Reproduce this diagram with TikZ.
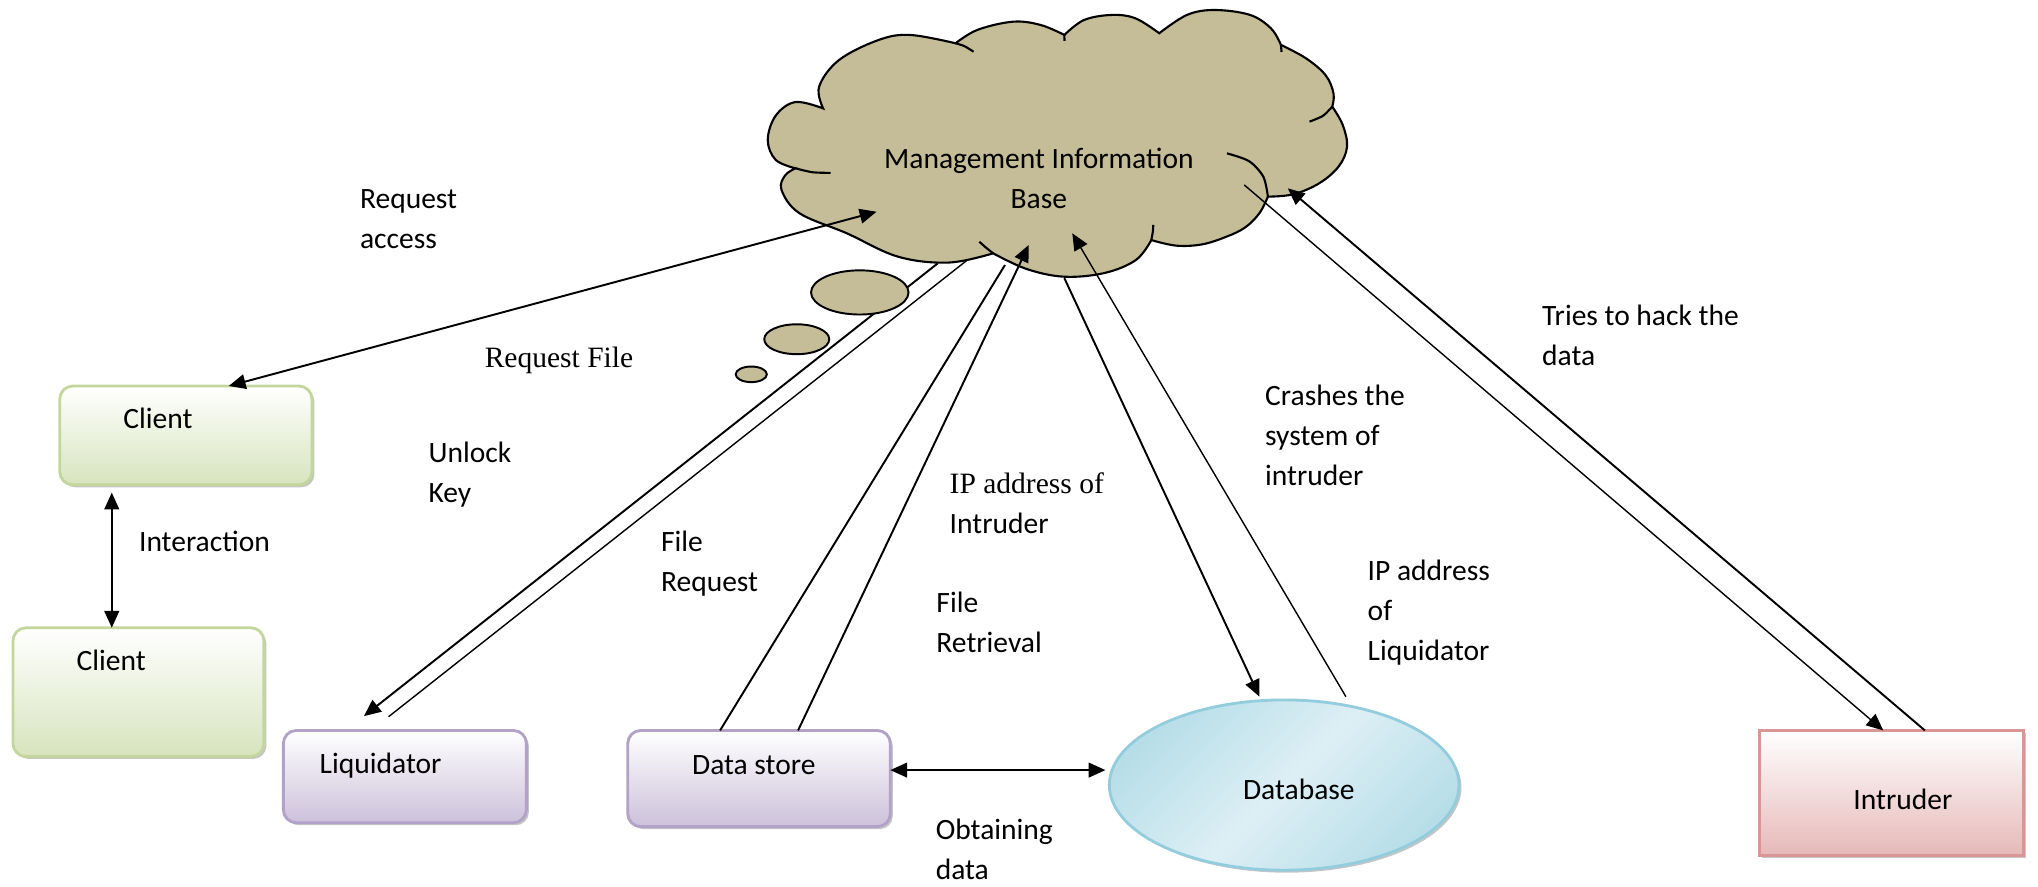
\documentclass[tikz,border=0pt]{standalone}
\usepackage{fontspec}
\setmainfont{Carlito}
\newfontfamily\serifface{Liberation Serif}
\usetikzlibrary{shapes.geometric,arrows.meta,shadows,calc}

\definecolor{cloudfill}{HTML}{C4BD97}
\definecolor{greenedge}{HTML}{C3D69B}
\definecolor{greenfill}{HTML}{D7E4BD}
\definecolor{violetedge}{HTML}{B3A2C7}
\definecolor{violetfill}{HTML}{CCC1DA}
\definecolor{pinkedge}{HTML}{D99694}
\definecolor{pinkfill}{HTML}{E6B9B8}
\definecolor{blueedge}{HTML}{93CDDD}
\definecolor{bluefill}{HTML}{B7DEE8}
\definecolor{bluelight}{HTML}{DDEFF5}

% stacked lines: left aligned / centred, baseline on the first line
\newcommand{\leftlines}[1]{\vtop{\halign{##\hfil\cr#1\crcr}}}
\newcommand{\midlines}[1]{\vtop{\halign{\hfil##\hfil\cr#1\crcr}}}

\tikzset{
  lbl/.style={anchor=base west, inner sep=0, outer sep=0},
  boxbase/.style={rectangle, inner sep=0, outer sep=0, line width=0.8pt,
    drop shadow={shadow xshift=0.025cm, shadow yshift=-0.025cm, fill=black!45}},
  greenbox/.style={boxbase, rounded corners=0.13cm, draw=greenedge, top color=white, bottom color=greenfill},
  violetbox/.style={boxbase, rounded corners=0.13cm, draw=violetedge, top color=white, bottom color=violetfill},
  pinkbox/.style={boxbase, draw=pinkedge, top color=white, bottom color=pinkfill},
  bluedisc/.style={ellipse, inner sep=0, outer sep=0, line width=0.8pt, draw=blueedge,
    left color=bluefill, right color=bluefill, middle color=bluelight, shading angle=45,
    drop shadow={shadow xshift=0.025cm, shadow yshift=-0.025cm, fill=black!45}},
  conn/.style={line width=0.55pt},
  thinconn/.style={line width=0.4pt},
  tip/.tip={Triangle[length=4.8pt,width=4.2pt]},
  arr/.style={conn, -tip},
  dbl/.style={conn, tip-tip},
  bubble/.style={fill=cloudfill, draw=black, line width=0.55pt},
}

\begin{document}
\begin{tikzpicture}[x=0.013cm, y=-0.013cm, font=\fontsize{8.4}{11.44}\selectfont]
\useasboundingbox (0,0) rectangle (1568,681.7);

% ---- cloud: Management Information Base ----
\filldraw[fill=cloudfill, draw=black, line width=0.6pt]
  plot[smooth, tension=0.6] coordinates {(612,129.5) (596.8,123) (590.7,107.7) (596.8,89) (612,78.5) (633.3,83.4)}
  -- plot[smooth, tension=0.6] coordinates {(633.3,83.4) (630.2,66.7) (645.5,46.2) (675.9,30.8) (700.2,26.9) (735.2,33.3)}
  -- plot[smooth, tension=0.6] coordinates {(735.2,33.3) (752,23) (779.3,16.7) (800.6,19.2) (818.9,26.9)}
  -- plot[smooth, tension=0.6] coordinates {(818.9,26.9) (834,15.4) (855.4,11.5) (873.6,14.1) (891.9,25.6)}
  -- plot[smooth, tension=0.6] coordinates {(891.9,25.6) (913.2,11.5) (934.5,7.7) (961.8,11.5) (978,22) (985.5,34.5)}
  -- plot[smooth, tension=0.6] coordinates {(985.5,34.5) (1005,45) (1020,58) (1026,72) (1025,82)}
  -- plot[smooth, tension=0.6] coordinates {(1025,82) (1033,96) (1036.4,112.8) (1030,128) (1015,141) (995,149.5) (975.5,151.3)}
  -- plot[smooth, tension=0.6] coordinates {(975.5,151.3) (969,164) (958,175) (943.6,182.1) (925,188) (905,189) (885.8,184.7)}
  -- plot[smooth, tension=0.6] coordinates {(885.8,184.7) (874,200) (850,210) (818.9,212.9) (790,207) (764.1,194.9)}
  -- plot[smooth, tension=0.6] coordinates {(764.1,194.9) (730,202) (691,197.5) (651.5,179.5) (615,164) (601.3,146.2) (604,135) (612,129.5)}
  -- cycle;
% inner folds of the cloud
\begin{scope}[line width=0.6pt]
  \draw plot[smooth] coordinates {(612,129.5) (625,132.5) (639,133)};
  \draw plot[smooth] coordinates {(735.2,33.3) (742,35.5) (749,39.8)};
  \draw (818.9,26.9) -- (819,31.5);
  \draw (985.5,34.5) -- (986,40);
  \draw plot[smooth] coordinates {(1025,82) (1018,89) (1007.5,93.6)};
  \draw plot[smooth] coordinates {(975.5,151.3) (972,136) (961,124) (944,118)};
  \draw plot[smooth] coordinates {(885.8,184.7) (887,178) (887.3,173)};
  \draw plot[smooth] coordinates {(764.1,194.9) (758,190) (753.5,186)};
\end{scope}
\node[anchor=base, inner sep=0] (mib) at (799.3,129.5) {\midlines{Management Information\cr Base}};

% points on the cloud where connectors meet it
\coordinate (mibA) at (674.4,162.9);
\coordinate (mibLa) at (721.5,202.6);
\coordinate (mibLb) at (744.3,200);
\coordinate (mibDa) at (773.2,203.9);
\coordinate (mibDb) at (791.5,188.5);
\coordinate (mibEa) at (818.9,214);
\coordinate (mibEb) at (825,179.5);
\coordinate (mibIa) at (957.3,142.3);
\coordinate (mibIb) at (990.8,144.9);

% ---- entities ----
\node[greenbox, minimum width=2.522cm, minimum height=0.988cm] (client1) at (143,335) {};
\node[greenbox, minimum width=2.509cm, minimum height=1.287cm] (client2) at (106.5,532.5) {};
\node[violetbox, minimum width=2.431cm, minimum height=0.923cm] (liq) at (311.5,597.5) {};
\node[violetbox, minimum width=2.626cm, minimum height=0.962cm] (ds) at (584,599) {};
\node[bluedisc, minimum width=3.497cm, minimum height=1.703cm] (db) at (988,604) {};
\node[pinkbox, minimum width=2.639cm, minimum height=1.248cm] (intr) at (1455.5,610) {};

\node[lbl] (client1t) at (95,329.6) {Client};
\node[lbl] (client2t) at (59,516) {Client};
\node[lbl] (liqt) at (246,595) {Liquidator};
\node[lbl] (dst) at (532.5,595.5) {Data store};
\node[lbl] (dbt) at (956.4,615.5) {Database};
\node[lbl] (intrt) at (1426,623) {Intruder};

% ---- connectors ----
\draw[dbl] (mibA) -- ($(client1.north)+(33,0)$);
\draw[dbl] ($(client1.south)+(-57,6)$) -- ($(client2.north)+(-20.5,0)$);
\draw[arr] (mibLa) -- ($(liq.north)+(-31.5,-11)$);
\draw[thinconn] ($(liq.north)+(-12.5,-10.6)$) -- (mibLb);
\draw[conn] ($(ds.north)+(-30,0)$) -- (mibDa);
\draw[arr] ($(ds.north)+(30,0)$) -- (mibDb);
\draw[arr] (mibEa) -- ($(db.north)+(-19,-2.5)$);
\draw[arr, thinconn] ($(db.north)+(47.5,-2.5)$) -- (mibEb);
\draw[arr, thinconn] (mibIa) -- ($(intr.north)+(-6.5,0)$);
\draw[arr] ($(intr.north)+(25.5,0)$) -- (mibIb);
\draw[dbl] ($(ds.east)+(0,-6.5)$) -- ($(db.west)+(-3,-11.5)$);

% thought bubbles trailing from the cloud
\draw[bubble] (661.5,225) ellipse [x radius=37.5, y radius=17];
\draw[bubble] (613,261) ellipse [x radius=25, y radius=11.5];
\draw[bubble] (578,288) ellipse [x radius=12, y radius=6];

% ---- connector labels ----
\node[lbl] (lReqAcc) at (277,160.5) {\leftlines{Request\cr access}};
\node[lbl] (lReqFile) at (373,282.6) {\serifface Request File};
\node[lbl] (lUnlock) at (329.8,356) {\leftlines{Unlock\cr Key}};
\node[lbl] (lInter) at (107,424.5) {Interaction};
\node[lbl] (lFileReq) at (508.6,424.5) {\leftlines{File\cr Request}};
\node[lbl] (lIPintr) at (730.7,379.6) {\leftlines{{\serifface IP address of}\cr Intruder}};
\node[lbl] (lFileRet) at (720.5,471.4) {\leftlines{File\cr Retrieval}};
\node[lbl] (lCrash) at (973.4,311.6) {\leftlines{Crashes the\cr system of\cr intruder}};
\node[lbl] (lIPliq) at (1052.3,446.3) {\leftlines{IP address\cr of\cr Liquidator}};
\node[lbl] (lHack) at (1186.5,250.6) {\leftlines{Tries to hack the\cr data}};
\node[lbl] (lObtain) at (720,645.8) {\leftlines{Obtaining\cr data}};
\end{tikzpicture}
\end{document}
